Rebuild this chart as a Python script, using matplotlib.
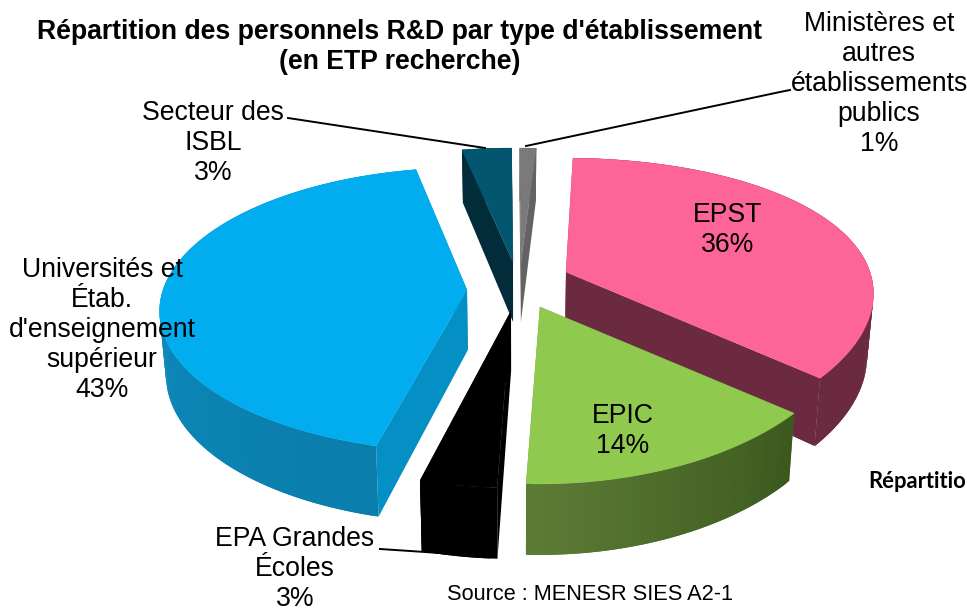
import numpy as np
import matplotlib
matplotlib.use("Agg")
import matplotlib.pyplot as plt
from matplotlib.patches import Polygon
from matplotlib.colors import to_rgb

# --- data -------------------------------------------------------------
names = ["EPST", "EPIC", "EPA Grandes\nÉcoles",
         "Universités et\nÉtab.\nd'enseignement\nsupérieur",
         "Secteur des\nISBL", "Ministères et\nautres\nétablissements\npublics"]
values = [36, 14.2, 3.5, 42.8, 3, 1]
percent_labels = ["36%", "14%", "3%", "43%", "3%", "1%"]
title = "Répartition des personnels R&D par type d'établissement\n(en ETP recherche)"
source = "Source : MENESR SIES A2-1"

# --- pie geometry (pixel canvas) ----------------------------------------
START = 1.5
A, KX = 304.0, 0.15
TAPER = 0.018
XC = 515
apex = [(566, 272), (540, 307), (511, 311), (467, 290), (513, 262), (521, 262)]
B = [138.6, 138.6, 138.6, 139.5, 138.6, 138.6]
KY = [0.2166, 0.2166, 0.2166, 0.14, 0.2166, 0.2166]
top_col = ["#fd6497", "#8fca4e", "#000000", "#01adee", "#03566f", "#7a7a7a"]
cut_col = ["#6b2a40", "#5a7a35", "#000000", "#0590c5", "#022c3a", "#636363"]
wall_a = ["#6b2a40", "#5c7c36", "#000000", "#0f97cc", "#022c3a", "#636363"]
wall_b = ["#6b2a40", "#3b591d", "#000000", "#0a7dab", "#022c3a", "#636363"]
draw_order = [4, 5, 0, 2, 3, 1]

fig = plt.figure(figsize=(9.67, 6.14), dpi=100)
ax = fig.add_axes([0, 0, 1, 1])
ax.set_xlim(0, 967)
ax.set_ylim(614, 0)
ax.axis("off")
plt.rcParams["font.family"] = ["Liberation Sans", "DejaVu Sans"]


def project(theta_deg, b, ky):
    t = np.radians(theta_deg)
    u, v = np.sin(t), -np.cos(t)
    return A * u / (1 - KX * v), b * v / (1 - ky * v), v


def thick(v):
    return 62 + 9 * v


def mix(c1, c2, f):
    a, b = np.array(to_rgb(c1)), np.array(to_rgb(c2))
    return tuple(a + (b - a) * f)


def low(xv):
    """x of the lower rim: the walls taper slightly towards the centre."""
    return xv - (xv - XC) * TAPER


edges = START + np.cumsum([0] + values) * 3.6
for i in draw_order:
    cx, cy = apex[i]
    th = np.linspace(edges[i], edges[i + 1], max(8, int(values[i] * 3.6)))
    dx, dy, v = project(th, B[i], KY[i])
    x, y = cx + dx, cy + dy
    h = thick(v)
    h0 = thick(0.0) - 2
    # cut faces
    for xe, ye, he in ((x[0], y[0], h[0]), (x[-1], y[-1], h[-1])):
        ax.add_patch(Polygon([(cx, cy), (xe, ye), (low(xe), ye + he), (low(cx), cy + h0)],
                             closed=True, fc=cut_col[i], ec="none"))
    # outer wall, shaded strip by strip (each strip overlaps the next one)
    n = len(th)
    for j in range(n - 1):
        k = min(j + 2, n - 1)
        f = 1 - j / (n - 2)
        c = mix(wall_a[i], wall_b[i], f)
        ax.add_patch(Polygon([(x[j], y[j]), (x[k], y[k]),
                              (low(x[k]), y[k] + h[k]), (low(x[j]), y[j] + h[j])],
                             closed=True, fc=c, ec="none"))
    # top surface
    ax.add_patch(Polygon(np.column_stack([np.r_[cx, x], np.r_[cy, y]]),
                         closed=True, fc=top_col[i], ec=top_col[i], lw=0.3))

# --- leader lines -------------------------------------------------------
ax.plot([288, 485], [118, 148], color="black", lw=1.4)
ax.plot([526, 780, 790], [146, 92, 90], color="black", lw=1.4)
ax.plot([380, 425, 495], [549, 552, 557], color="black", lw=1.4)

# --- text ---------------------------------------------------------------
FS = 19.2
LS = 1.21
label_pos = [(728, 230), (623, 431), (295, 569), (102, 330), (213, 143), (879, 84)]
for nm, pct, (lx, ly) in zip(names, percent_labels, label_pos):
    ax.text(lx, ly, f"{nm}\n{pct}", ha="center", va="center",
            fontsize=FS, linespacing=LS, color="black", multialignment="center")

ax.text(399.5, 47, title, ha="center", va="center", fontsize=19.2,
        fontweight="bold", linespacing=1.2, color="black")
ax.text(447, 595, source, ha="left", va="center", fontsize=15.7, color="black")
ax.text(868, 481, "Répartitio", ha="left", va="center",
        fontsize=15.8, fontweight="bold", family=["Lato", "DejaVu Sans"], color="black")

fig.savefig("out.png", dpi=100)
